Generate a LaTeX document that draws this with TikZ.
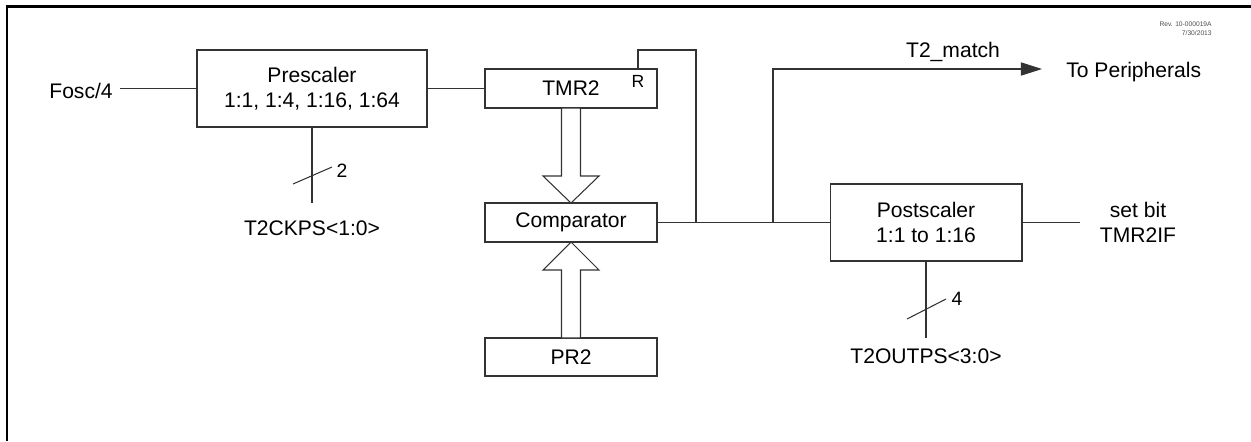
\documentclass[tikz,border=0pt]{standalone}
\usepackage{fontspec}
\setmainfont{Liberation Sans}
\usetikzlibrary{arrows.meta}
\begin{document}
\begin{tikzpicture}[
    x=0.02cm, y=-0.02cm,
    % Styles
    block/.style={
      rectangle,
      draw=black!80,
      line width=0.6pt,
      align=center,
      inner sep=0pt,
      outer sep=0pt,
      font=\fontsize{12}{14.2}\selectfont,
    },
    txt/.style={inner sep=0pt, align=center, font=\fontsize{12}{14.2}\selectfont},
    wire/.style={draw=black!80, line width=0.6pt},
    bus/.style={wire, fill=white},
  ]
  \useasboundingbox (0,0) rectangle (1251,441);
  \draw[line width=1.7pt] (7,441) -- (7,6) -- (1251,6);
  \node[block, minimum width=4.6cm, minimum height=1.54cm] (pre) at (312,88.5) {Prescaler\\1:1, 1:4, 1:16, 1:64};
  \node[block, minimum width=3.44cm, minimum height=0.78cm] (tmr) at (571,88.5) {TMR2};
  \node[block, minimum width=3.44cm, minimum height=0.78cm] (cmp) at (571,222.5) {Comparator};
  \node[block, minimum width=3.44cm, minimum height=0.76cm] (pr) at (571,357) {PR2};
  \node[block, minimum width=3.84cm, minimum height=1.54cm] (post) at (926,222.5) {Postscaler\\1:1 to 1:16};
  \node[txt, anchor=east] (fosc) at (113,91) {Fosc/4};
  \node[txt, font=\fontsize{10}{12}\selectfont] (rst) at (638,81) {R};
  \node[txt] (ckps) at (312,228) {T2CKPS<1:0>};
  \node[txt] (outps) at (926,356) {T2OUTPS<3:0>};
  \node[txt, font=\fontsize{11}{13}\selectfont] (two) at (342,171) {2};
  \node[txt, font=\fontsize{11}{13}\selectfont] (four) at (957,299) {4};
  \node[txt] (match) at (953,52) {T2\_match};
  \node[txt, anchor=west] (periph) at (1066,72) {To Peripherals};
  \node[txt] (tmrif) at (1138,222.5) {set bit\\TMR2IF};
  \node[inner sep=0pt, align=right, anchor=north east, text=black!70,
    font=\fontsize{3.8}{5.5}\selectfont] (rev) at (1212,21) {Rev. 10-000019A\\7/30/2013};
  \coordinate (ckend) at (312,203);
  \coordinate (outend) at (926,338);
  \coordinate (jr) at (696,222.5);
  \coordinate (jm) at (773,222.5);
  \coordinate (tip) at (1042,69);
  % signal lines
  \draw[wire] ([xshift=0.14cm]fosc.east |- pre.west) -- (pre.west);
  \draw[wire] (pre.east) -- (tmr.west);
  \draw[wire] (pre.south) -- (ckend);
  \draw[wire] (293,184) -- (332,167);
  \draw[wire] (tmr.north -| rst) -- ++(0,-19) -| (jr);
  \draw[wire] (cmp.east) -- (post.west);
  \draw[wire, -{Triangle[length=12pt,width=7.5pt]}] (jm) |- (tip);
  \draw[wire] (post.east) -- ([xshift=-0.4cm]tmrif.west);
  \draw[wire] (post.south) -- (outend);
  \draw[wire] (907,319) -- (946,299);
  % bus arrows
  \draw[bus] (tmr.south) ++(-9.5,0) -- ++(0,68) -- ++(-18.5,0) -- (cmp.north) -- ++(28,-27) -- ++(-18.5,0) -- ++(0,-68) -- cycle;
  \draw[bus] (pr.north) ++(-9.5,0) -- ++(0,-68) -- ++(-18.5,0) -- (cmp.south) -- ++(28,28) -- ++(-18.5,0) -- ++(0,68) -- cycle;
\end{tikzpicture}
\end{document}
